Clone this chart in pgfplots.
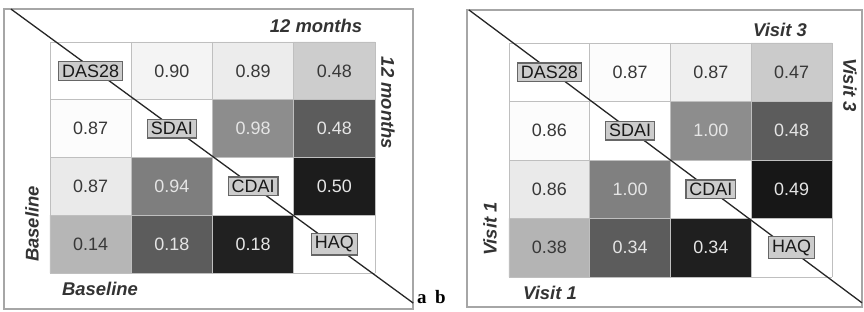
\documentclass[border=0pt]{standalone}
\usepackage{fontspec}
\setmainfont{Liberation Sans}
\newfontfamily\serifbf{Liberation Serif}
\usepackage{pgfplots}
\pgfplotsset{compat=1.18}
\usepackage{pgfplotstable}

% gray level of each cell (row 0 = top)
\pgfplotstableread{
x y g
0 0 1.00
1 0 0.95
2 0 0.92
3 0 0.80
0 1 0.98
1 1 1.00
2 1 0.55
3 1 0.36
0 2 0.91
1 2 0.49
2 2 1.00
3 2 0.11
0 3 0.71
1 3 0.36
2 3 0.13
3 3 1.00
}\cellsA
\pgfplotstableread{
x y label
1 0 0.90
2 0 0.89
3 0 0.48
0 1 0.87
0 2 0.87
0 3 0.14
}\darkA
\pgfplotstableread{
x y label
2 1 0.98
3 1 0.48
1 2 0.94
3 2 0.50
1 3 0.18
2 3 0.18
}\lightA
\pgfplotstableread{
x y g
0 0 1.00
1 0 0.98
2 0 0.93
3 0 0.79
0 1 0.98
1 1 1.00
2 1 0.55
3 1 0.36
0 2 0.91
1 2 0.50
2 2 1.00
3 2 0.09
0 3 0.70
1 3 0.36
2 3 0.12
3 3 1.00
}\cellsB
\pgfplotstableread{
x y label
1 0 0.87
2 0 0.87
3 0 0.47
0 1 0.86
0 2 0.86
0 3 0.38
}\darkB
\pgfplotstableread{
x y label
2 1 1.00
3 1 0.48
1 2 1.00
3 2 0.49
1 3 0.34
2 3 0.34
}\lightB
\pgfplotstableread{
x y label
0 0 DAS28
1 1 SDAI
2 2 CDAI
3 3 HAQ
}\diag

\pgfplotsset{
  cellaxis/.style={scale only axis, hide axis, clip=false,
    xmin=-0.5, xmax=3.5, ymin=-0.5, ymax=3.5, y dir=reverse,
    colormap={grays}{gray(0cm)=(0); gray(1cm)=(1)},
    point meta min=0, point meta max=1, anchor=south west},
  gridline/.style={black!25, line width=0.9bp, mark=none},
  vals/.style={only marks, mark=none, point meta=explicit symbolic,
    nodes near coords,
    nodes near coords style={anchor=center, text=#1,
      font=\fontsize{18}{20}\selectfont}},
  diagbox/.style={only marks, mark=none, point meta=explicit symbolic,
    nodes near coords,
    nodes near coords style={anchor=center, draw=black!60, fill=black!20,
      line width=1.3bp, inner xsep=3.5bp, inner ysep=3bp, text=black!90,
      font=\fontsize{18}{20}\selectfont}},
}
\newcommand{\ttl}{\fontsize{18.5}{21}\selectfont\bfseries\itshape}

\begin{document}
\begin{tikzpicture}[x=1bp,y=1bp]
\useasboundingbox (0,0) rectangle (864,311);
\draw[black!35, line width=1.8bp] (4,2) rectangle (413,302);
\draw[black!35, line width=1.8bp] (467,4) rectangle (862,301);

\begin{axis}[cellaxis, at={(50bp,38bp)}, width=325bp, height=231bp]
\addplot[matrix plot*, mesh/cols=4, point meta=explicit] table[meta=g]{\cellsA};
\addplot[gridline] coordinates {(-0.5,-0.5) (-0.5,3.5)};
\addplot[gridline] coordinates {(0.5,-0.5) (0.5,3.5)};
\addplot[gridline] coordinates {(1.5,-0.5) (1.5,3.5)};
\addplot[gridline] coordinates {(2.5,-0.5) (2.5,3.5)};
\addplot[gridline] coordinates {(3.5,-0.5) (3.5,3.5)};
\addplot[gridline] coordinates {(-0.5,-0.5) (3.5,-0.5)};
\addplot[gridline] coordinates {(-0.5,0.5) (3.5,0.5)};
\addplot[gridline] coordinates {(-0.5,1.5) (3.5,1.5)};
\addplot[gridline] coordinates {(-0.5,2.5) (3.5,2.5)};
\addplot[gridline] coordinates {(-0.5,3.5) (3.5,3.5)};
\addplot[black!85, line width=1.3bp, mark=none] coordinates {(-0.98,-1.07) (3.97,4.02)};
\addplot[vals=black!78] table[x=x,y=y,meta=label]{\darkA};
\addplot[vals=black!10] table[x=x,y=y,meta=label]{\lightA};
\addplot[diagbox] table[x=x,y=y,meta=label]{\diag};
\end{axis}

\begin{axis}[cellaxis, at={(509bp,34bp)}, width=323bp, height=234bp]
\addplot[matrix plot*, mesh/cols=4, point meta=explicit] table[meta=g]{\cellsB};
\addplot[gridline] coordinates {(-0.5,-0.5) (-0.5,3.5)};
\addplot[gridline] coordinates {(0.5,-0.5) (0.5,3.5)};
\addplot[gridline] coordinates {(1.5,-0.5) (1.5,3.5)};
\addplot[gridline] coordinates {(2.5,-0.5) (2.5,3.5)};
\addplot[gridline] coordinates {(3.5,-0.5) (3.5,3.5)};
\addplot[gridline] coordinates {(-0.5,-0.5) (3.5,-0.5)};
\addplot[gridline] coordinates {(-0.5,0.5) (3.5,0.5)};
\addplot[gridline] coordinates {(-0.5,1.5) (3.5,1.5)};
\addplot[gridline] coordinates {(-0.5,2.5) (3.5,2.5)};
\addplot[gridline] coordinates {(-0.5,3.5) (3.5,3.5)};
\addplot[black!85, line width=1.3bp, mark=none] coordinates {(-0.995,-1.064) (3.87,3.94)};
\addplot[vals=black!78] table[x=x,y=y,meta=label]{\darkB};
\addplot[vals=black!10] table[x=x,y=y,meta=label]{\lightB};
\addplot[diagbox] table[x=x,y=y,meta=label]{\diag};
\end{axis}

% titles panel a
\node[font=\ttl, text=black!80] at (316,285) {12 months};
\node[font=\ttl, text=black!80, rotate=-90] at (388,208) {12 months};
\node[font=\ttl, text=black!80, rotate=90] at (32,87) {Baseline};
\node[font=\ttl, text=black!80] at (100,22) {Baseline};
% titles panel b
\node[font=\ttl, text=black!80] at (780,281) {Visit 3};
\node[font=\ttl, text=black!80, rotate=-90] at (850,226) {Visit 3};
\node[font=\ttl, text=black!80, rotate=90] at (490,82) {Visit 1};
\node[font=\ttl, text=black!80] at (550,18) {Visit 1};
% panel letters
\node[font=\serifbf\fontsize{19}{22}\selectfont\bfseries, anchor=base west, inner sep=0pt] at (417,8) {a};
\node[font=\serifbf\fontsize{19}{22}\selectfont\bfseries, anchor=base west, inner sep=0pt] at (435,8) {b};
\end{tikzpicture}
\end{document}
